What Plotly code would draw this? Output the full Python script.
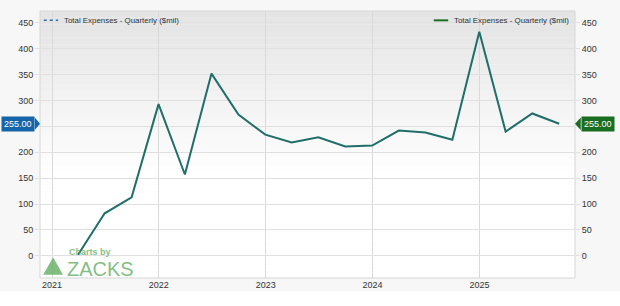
import plotly.graph_objects as go

dates = ["2021-03-31", "2021-06-30", "2021-09-30", "2021-12-31",
         "2022-03-31", "2022-06-30", "2022-09-30", "2022-12-31",
         "2023-03-31", "2023-06-30", "2023-09-30", "2023-12-31",
         "2024-03-31", "2024-06-30", "2024-09-30", "2024-12-31",
         "2025-03-31", "2025-06-30", "2025-09-30"]
expenses = [2, 82, 113, 293, 157, 352, 273, 234, 219, 229, 211, 213,
            242, 238, 224, 433, 240, 275, 255]
year_ticks = ["2021-01-01", "2022-01-01", "2023-01-01", "2024-01-01", "2025-01-01"]
year_labels = ["2021", "2022", "2023", "2024", "2025"]
y_ticks = [0, 50, 100, 150, 200, 250, 300, 350, 400, 450]
y_tick_labels = ["0", "50", "100", "150", "200", "", "300", "350", "400", "450"]
series_name = "Total Expenses - Quarterly ($mil)"

LINE = "#1f6e6a"
FONT = "Liberation Sans, Arial, sans-serif"
WM = "rgba(95,172,95,0.78)"
last_val = expenses[-1]
last_label = f"{last_val:.2f}"

fig = go.Figure()
fig.add_trace(go.Scatter(x=dates, y=expenses, mode="lines",
                         line=dict(color=LINE, width=2), showlegend=False,
                         hoverinfo="x+y"))
# invisible trace to activate right axis
fig.add_trace(go.Scatter(x=dates, y=expenses, yaxis="y2", mode="lines",
                         line=dict(color="rgba(0,0,0,0)", width=0), showlegend=False,
                         hoverinfo="skip"))

yr = [-43, 473]
axis_common = dict(range=yr, tickvals=y_ticks, ticktext=y_tick_labels, showgrid=True,
                   gridcolor="#e0e0e0", gridwidth=1, zeroline=False, ticks="outside",
                   ticklen=4, tickcolor="#e0e0e0",
                   tickfont=dict(family=FONT, size=9, color="#333333"),
                   showline=False, fixedrange=True)

shapes = []
# paper background (grey upper, white bottom)
shapes.append(dict(type="rect", xref="paper", yref="paper", x0=-0.1, x1=1.1,
                   y0=-0.05, y1=1.1, fillcolor="#f7f7f7", line=dict(width=0), layer="below"))
# gradient bands inside plot area
n = 40
for i in range(n):
    t = i / n
    g = int(round(0xe4 + (0xff - 0xe4) * min(1.0, t / 0.6)))
    col = f"rgb({g},{g},{g})"
    shapes.append(dict(type="rect", xref="paper", yref="paper", x0=0, x1=1,
                       y0=1 - (i + 1) / n, y1=1 - i / n, fillcolor=col,
                       line=dict(width=0), layer="below"))
# plot border
shapes.append(dict(type="rect", xref="paper", yref="paper", x0=0, x1=1, y0=0, y1=1,
                   line=dict(color="#d6d6d6", width=1), layer="below"))
# legend symbols
shapes.append(dict(type="line", xref="paper", yref="paper", x0=0.007, x1=0.034,
                   y0=0.965, y1=0.965, line=dict(color="#2a6fb5", width=1.5, dash="dot")))
shapes.append(dict(type="line", xref="paper", yref="paper", x0=0.736, x1=0.763,
                   y0=0.965, y1=0.965, line=dict(color="#1a6e22", width=2)))

annotations = [
    dict(text=series_name, xref="paper", yref="paper", x=0.041, y=0.965,
         xanchor="left", yanchor="middle", showarrow=False,
         font=dict(family=FONT, size=7.9, color="#333333")),
    dict(text=series_name, xref="paper", yref="paper", x=0.771, y=0.965,
         xanchor="left", yanchor="middle", showarrow=False,
         font=dict(family=FONT, size=7.9, color="#333333")),
    # value tags
    dict(text=last_label, xref="paper", yref="y", x=-0.0095, y=last_val,
         xanchor="right", yanchor="middle", showarrow=False, bgcolor="#1565a8",
         borderpad=2, font=dict(family=FONT, size=9, color="white")),
    dict(text=last_label, xref="paper", yref="y", x=1.0105, y=last_val,
         xanchor="left", yanchor="middle", showarrow=False, bgcolor="#1a6e22",
         borderpad=2, font=dict(family=FONT, size=9, color="white")),
    # watermark
    dict(text="<b>Charts by</b>", xref="paper", yref="paper", x=0.051, y=0.072,
         xanchor="left", yanchor="bottom", showarrow=False,
         font=dict(family=FONT, size=9, color=WM)),
    dict(text="ZACKS", xref="paper", yref="paper", x=0.047, y=-0.015,
         xanchor="left", yanchor="bottom", showarrow=False,
         font=dict(family=FONT, size=20, color=WM)),
]
# pointer triangles of the tags and watermark logo
tri_h = 12
shapes.append(dict(type="path", xref="paper", yref="y",
                   path=f"M -0.0097 {last_val - tri_h} L 0.0 {last_val} L -0.0097 {last_val + tri_h} Z",
                   fillcolor="#1565a8", line=dict(width=0)))
shapes.append(dict(type="path", xref="paper", yref="y",
                   path=f"M 1.0107 {last_val - tri_h} L 1.0 {last_val} L 1.0107 {last_val + tri_h} Z",
                   fillcolor="#1a6e22", line=dict(width=0)))
shapes.append(dict(type="path", xref="paper", yref="paper",
                   path="M 0.006 0.012 L 0.0245 0.078 L 0.043 0.012 Z",
                   fillcolor=WM, line=dict(width=0)))

fig.update_layout(
    width=620, height=306,
    margin=dict(l=40, r=45, t=11, b=28),
    paper_bgcolor="white", plot_bgcolor="rgba(0,0,0,0)",
    showlegend=False,
    xaxis=dict(type="date", range=["2020-11-21", "2025-11-23"], tickvals=year_ticks,
               ticktext=year_labels, showgrid=True, gridcolor="#d9d9d9", zeroline=False,
               ticks="", tickfont=dict(family=FONT, size=9, color="#333333"),
               showline=False, fixedrange=True),
    yaxis=dict(side="left", **axis_common),
    yaxis2=dict(side="right", overlaying="y", **axis_common),
    shapes=shapes, annotations=annotations,
)
fig.write_html("out.html", config={"displayModeBar": False})
